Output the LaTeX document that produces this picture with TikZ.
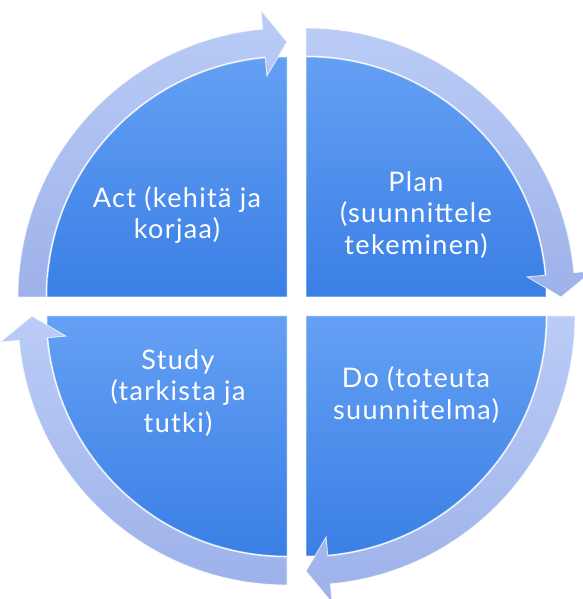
\documentclass[tikz,border=0pt]{standalone}
\usepackage{fontspec}
\setmainfont{Lato}[LetterSpace=5]
\usetikzlibrary{calc}

\definecolor{pietop}{HTML}{64A0F4}
\definecolor{piebottom}{HTML}{3A7FE5}
\definecolor{arrowtop}{HTML}{BACCF6}
\definecolor{arrowbottom}{HTML}{9DB2EA}

\tikzset{
  piefill/.style={top color=pietop, bottom color=piebottom,
    draw=white, draw opacity=0.45, line width=1pt},
  arrowfill/.style={top color=arrowtop, bottom color=arrowbottom,
    draw=white, draw opacity=0.7, line width=0.9pt},
  phase/.style={text=white, align=center,
    font=\fontsize{27pt}{31.5pt}\selectfont, inner sep=0pt}
}

% quarter wedge: #1 corner, #2 start angle (runs clockwise by 90 degrees)
\newcommand\pdcawedge[2]{%
  \pgfmathsetmacro\wedgeEnd{#2-90}%
  \path[piefill] (#1) -- ($(#1)+(#2:240pt)$)
    arc[start angle=#2, end angle=\wedgeEnd, radius=240pt] -- cycle;}

% curved arrow around a wedge: #1 corner, #2 start angle
\newcommand\pdcaarrow[2]{%
  \pgfmathsetmacro\headAng{#2-84.8}%
  \pgfmathsetmacro\tipAng{#2-90}%
  \path[arrowfill] ($(#1)+(#2:269pt)$)
    arc[start angle=#2, end angle=\headAng, radius=269pt]
    -- ($(#1)+(\headAng:288pt)$)
    -- ($(#1)+(\tipAng:255pt)$)
    -- ($(#1)+(\headAng:222pt)$)
    -- ($(#1)+(\headAng:241pt)$)
    arc[start angle=\headAng, end angle=#2, radius=241pt] -- cycle;}

\begin{document}
\begin{tikzpicture}[x=1pt,y=1pt]
  \useasboundingbox (0,0) rectangle (582,599);

  % corners of the four quadrants
  \coordinate (cAct)   at (287,302);
  \coordinate (cPlan)  at (306,302);
  \coordinate (cStudy) at (287,283);
  \coordinate (cDo)    at (306,283);

  \pdcawedge{cAct}{180}
  \pdcawedge{cPlan}{90}
  \pdcawedge{cDo}{0}
  \pdcawedge{cStudy}{-90}

  \pdcaarrow{cAct}{180}
  \pdcaarrow{cPlan}{90}
  \pdcaarrow{cDo}{0}
  \pdcaarrow{cStudy}{-90}

  \node[phase] (act)   at (177,384) {Act (kehitä ja\\korjaa)};
  \node[phase] (plan)  at (416,384) {Plan\\(suunnittele\\tekeminen)};
  \node[phase] (study) at (178,206) {Study\\(tarkista ja\\tutki)};
  \node[phase] (do)    at (416,204) {Do (toteuta\\suunnitelma)};
\end{tikzpicture}
\end{document}
